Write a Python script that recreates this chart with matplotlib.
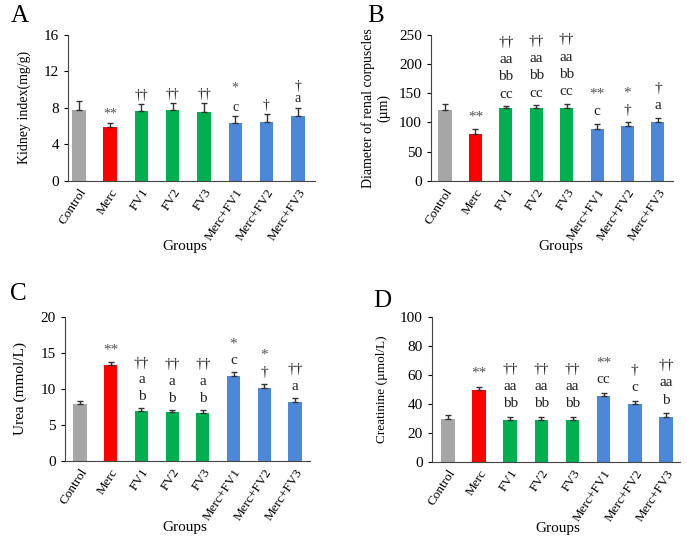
import matplotlib.pyplot as plt
import numpy as np

plt.rcParams['font.family'] = ['Liberation Serif', 'DejaVu Serif']

groups = ["Control", "Merc", "FV1", "FV2", "FV3", "Merc+FV1", "Merc+FV2", "Merc+FV3"]
colors = ["#a6a6a6", "#ff0000", "#00b050", "#00b050", "#00b050",
          "#4d88d8", "#4d88d8", "#4d88d8"]

kidney = [7.8, 5.9, 7.7, 7.8, 7.6, 6.3, 6.5, 7.1]
kidney_err = [1.0, 0.45, 0.7, 0.7, 0.9, 0.8, 0.8, 0.9]
kidney_marks = [[], ["**"], ["††"], ["††"], ["††"], ["*", "", "c"], ["†"], ["†", "a"]]

diameter = [122, 81, 124, 124, 125, 89, 94, 100]
diameter_err = [10, 8, 4, 6, 7, 9, 6, 8]
diameter_marks = [[], ["**"], ["††", "aa", "bb", "cc"], ["††", "aa", "bb", "cc"],
                  ["††", "aa", "bb", "cc"], ["**", "c"], ["*", "†"], ["†", "a"]]

urea = [7.9, 13.3, 6.9, 6.8, 6.7, 11.8, 10.2, 8.2]
urea_err = [0.4, 0.5, 0.4, 0.3, 0.4, 0.5, 0.5, 0.5]
urea_marks = [[], ["**"], ["††", "a", "b"], ["††", "a", "b"], ["††", "a", "b"],
              ["*", "c"], ["*", "†"], ["††", "a"]]

creat = [30, 50, 29, 29, 29, 45.5, 40, 31]
creat_err = [2.5, 2, 2, 2, 2, 2, 2, 2.5]
creat_marks = [[], ["**"], ["††", "aa", "bb"], ["††", "aa", "bb"], ["††", "aa", "bb"],
               ["**", "cc"], ["†", "c"], ["††", "aa", "b"]]

fig = plt.figure(figsize=(6.87, 5.40), dpi=100)

panels = [
    # letter, rect, values, err, marks, ylabel, label size, ylim, ticks, xlim,
    # mark step, mark base, mark size, labelpad, letter pos, groups pos
    ("A", [0.099, 0.665, 0.3595, 0.2704], kidney, kidney_err, kidney_marks,
     "Kidney index(mg/g)", 10, 16, [0, 4, 8, 12, 16], (-0.35, 7.55), 9, 4, 10, 9,
     (0.015, 0.959), (0.269, 0.543)),
    ("B", [0.6274, 0.665, 0.352, 0.2704], diameter, diameter_err, diameter_marks,
     "Diameter of renal corpuscles\n(µm)", 10, 250, [0, 50, 100, 150, 200, 250], (-0.46, 7.49), 12.5, 6, 11, 6,
     (0.535, 0.959), (0.817, 0.543)),
    ("C", [0.0946, 0.1463, 0.3566, 0.2667], urea, urea_err, urea_marks,
     "Urea (mmol/L)", 11, 20, [0, 5, 10, 15, 20], (-0.49, 7.49), 12, 6, 11, 10,
     (0.015, 0.444), (0.269, 0.024)),
    ("D", [0.6288, 0.1444, 0.361, 0.2685], creat, creat_err, creat_marks,
     "Creatinine (µmol/L)", 9.5, 100, [0, 20, 40, 60, 80, 100], (-0.51, 7.45), 12.5, 7, 11, 9,
     (0.543, 0.431), (0.812, 0.022)),
]

x = np.arange(len(groups))
for (letter, rect, vals, err, marks, ylabel, lsize, ymax, ticks, xlim,
     step, base, msize, lpad, lpos, gpos) in panels:
    ax = fig.add_axes(rect)
    ax.bar(x, vals, width=0.43, color=colors,
           yerr=[np.zeros(len(err)), err], capsize=2.5,
           error_kw=dict(ecolor="#333333", elinewidth=1, capthick=1))
    ax.set_ylim(0, ymax)
    ax.set_yticks(ticks)
    ax.set_xlim(*xlim)
    ax.set_xticks(x)
    ax.set_xticklabels(groups, rotation=57, ha="right", rotation_mode="anchor", fontsize=9.5)
    ax.tick_params(axis="x", length=0, pad=4)
    ax.tick_params(axis="y", length=3, labelsize=11, direction="out")
    for s in ["top", "right"]:
        ax.spines[s].set_visible(False)
    for s in ["left", "bottom"]:
        ax.spines[s].set_color("#444444")
    ax.set_ylabel(ylabel, fontsize=lsize, labelpad=lpad)
    for i, lines in enumerate(marks):
        top = vals[i] + err[i]
        off = base
        for t in reversed(lines):
            if not t:
                # blank entry = extra bit of space
                off += step * 0.5
                continue
            col = "#555555" if "*" in t else "#222222"
            ax.annotate(t, xy=(i, top), xytext=(0, off),
                        textcoords="offset points", ha="center", va="baseline",
                        fontsize=msize, color=col, annotation_clip=False)
            off += step
    fig.text(lpos[0], lpos[1], letter, fontsize=18, ha="left", va="baseline")
    fig.text(gpos[0], gpos[1], "Groups", fontsize=11, ha="center", va="center")

fig.savefig("out.png", dpi=100)
